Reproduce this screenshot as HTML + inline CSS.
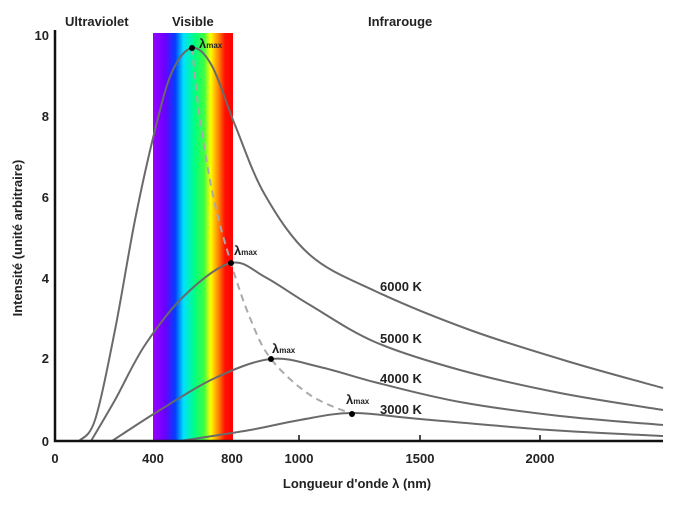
<!DOCTYPE html><html><head><meta charset="utf-8"><style>body{margin:0;background:#fff}svg text{font-family:"Liberation Sans",Arial,sans-serif;font-weight:bold;fill:#222}</style></head><body>
<svg id="s" width="696" height="505" viewBox="0 0 696 505" xmlns="http://www.w3.org/2000/svg">
<defs><linearGradient id="g" x1="0" x2="1" y1="0" y2="0">
<stop offset="0" stop-color="#9a00ff"/><stop offset="0.15" stop-color="#6a00ff"/><stop offset="0.28" stop-color="#0040ff"/><stop offset="0.38" stop-color="#00e0ff"/><stop offset="0.52" stop-color="#00ff80"/><stop offset="0.64" stop-color="#40ff40"/><stop offset="0.72" stop-color="#ffff00"/><stop offset="0.82" stop-color="#ff8000"/><stop offset="0.9" stop-color="#ff1000"/><stop offset="1" stop-color="#ff0000"/></linearGradient></defs>
<rect x="153" y="33" width="80" height="408" fill="url(#g)"/>
<g id="curves" fill="none" stroke="#6a6a6a" stroke-width="2"></g>
<path d="M55 30V441H663" fill="none" stroke="#111" stroke-width="2.5"/>
<g stroke="#111" stroke-width="1.5"><line x1="299" y1="441" x2="299" y2="435"/><line x1="420" y1="441" x2="420" y2="435"/><line x1="540" y1="441" x2="540" y2="435"/></g>
<g font-size="13" text-anchor="end"><text x="49" y="446">0</text><text x="49" y="363">2</text><text x="49" y="283">4</text><text x="49" y="202">6</text><text x="49" y="121">8</text><text x="49" y="40">10</text></g>
<g font-size="13" text-anchor="middle"><text x="55" y="463">0</text><text x="153" y="463">400</text><text x="232" y="463">800</text><text x="299" y="463">1000</text><text x="420" y="463">1500</text><text x="540" y="463">2000</text></g>
<text x="357" y="488" font-size="13" text-anchor="middle">Longueur d'onde λ (nm)</text>
<text transform="translate(22,238) rotate(-90)" font-size="13" text-anchor="middle">Intensité (unité arbitraire)</text>
<text x="65" y="26" font-size="13">Ultraviolet</text><text x="172" y="26" font-size="13">Visible</text><text x="368" y="26" font-size="13">Infrarouge</text>
<g font-size="13"><text x="380" y="291">6000 K</text><text x="380" y="343">5000 K</text><text x="380" y="383">4000 K</text><text x="380" y="414">3000 K</text></g>
<g font-size="13"><text x="199" y="48">λ<tspan font-size="8">max</tspan></text><text x="234" y="255">λ<tspan font-size="8">max</tspan></text><text x="272" y="353">λ<tspan font-size="8">max</tspan></text><text x="346" y="404">λ<tspan font-size="8">max</tspan></text></g>
<g fill="#000"><circle cx="192" cy="48" r="3"/><circle cx="231" cy="263" r="3"/><circle cx="271" cy="359" r="3"/><circle cx="352" cy="414" r="3"/></g>
</svg>
<script>
function cr(p){let d="M"+p[0];for(let i=0;i<p.length-1;i++){const a=p[i-1]||p[i],b=p[i],c=p[i+1],e=p[i+2]||c;d+="C"+(b[0]+(c[0]-a[0])/6)+" "+(b[1]+(c[1]-a[1])/6)+" "+(c[0]-(e[0]-b[0])/6)+" "+(c[1]-(e[1]-b[1])/6)+" "+c[0]+" "+c[1];}return d;}
const C=[
[[79,441],[95,420],[115,330],[135,220],[155,130],[172,72],[192,48],[212,66],[235,125],[265,195],[310,255],[375,291],[470,330],[570,362],[663,388]],
[[91,441],[115,400],[145,345],[185,295],[231,263],[265,277],[310,305],[375,342],[460,370],[560,393],[663,410]],
[[112,441],[160,410],[215,378],[271,359],[320,367],[378,383],[460,402],[560,416],[663,425]],
[[180,441],[250,430],[300,420],[352,413],[420,419],[550,430],[663,436]],
];
const g=document.getElementById("curves");let h="";
C.forEach(p=>h+='<path d="'+cr(p)+'"/>');
h+='<path d="'+cr([[192,48],[200,120],[214,200],[231,263],[250,318],[271,359],[310,395],[352,414]])+'" stroke="#aaa" stroke-dasharray="7 5"/>';
g.innerHTML=h;
</script>
</body></html>
